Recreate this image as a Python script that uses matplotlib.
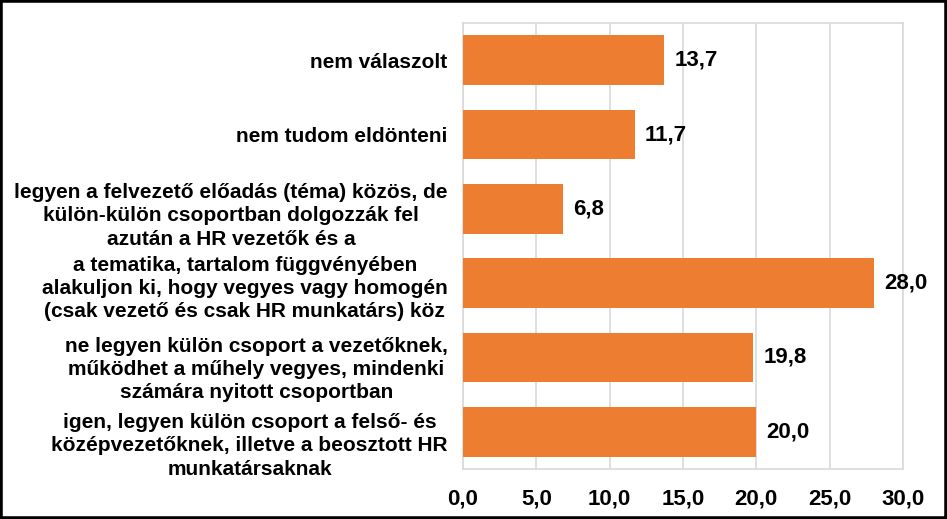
import numpy as np
import matplotlib.pyplot as plt
from matplotlib.patches import Rectangle
from matplotlib.transforms import ScaledTranslation

plt.rcParams['font.family'] = ['Liberation Sans', 'DejaVu Sans']

categories = [
    "igen, legyen külön csoport a felső- és\nközépvezetőknek, illetve a beosztott HR\nmunkatársaknak",
    "ne legyen külön csoport a vezetőknek,\nműködhet a műhely vegyes, mindenki\nszámára nyitott csoportban",
    "a tematika, tartalom függvényében\nalakuljon ki, hogy vegyes vagy homogén\n(csak vezető és csak HR munkatárs) köz",
    "legyen a felvezető előadás (téma) közös, de\nkülön-külön csoportban dolgozzák fel\nazután a HR vezetők és a",
    "nem tudom eldönteni",
    "nem válaszolt",
]
values = [20.0, 19.8, 28.0, 6.8, 11.7, 13.7]
xticks = [0, 5, 10, 15, 20, 25, 30]

fs = 15

fig = plt.figure(figsize=(9.47, 5.19), dpi=100)
ax = fig.add_axes([463/947, 1 - 469/519, 440/947, 446/519])

y = np.arange(len(values))
ax.barh(y, values, height=0.67, color='#ED7D31', zorder=3)
ax.set_ylim(-0.5, len(values) - 0.5)
ax.set_xlim(0, 30)

for yi, v in zip(y, values):
    ax.text(v + 0.7, yi, "{:.1f}".format(v).replace('.', ','), va='center', ha='left',
            fontsize=16, fontweight='bold')

ax.set_yticks(y)
ax.set_yticklabels(categories, fontsize=fs, fontweight='bold',
                   multialignment='center', linespacing=1.28)
ax.tick_params(axis='y', length=0, pad=11)
# wrapped labels sit a little lower than their bars, as in the original
shift_px = [-10, -8, -1, -3, 0, 0]
for lbl, dy in zip(ax.get_yticklabels(), shift_px):
    lbl.set_transform(lbl.get_transform() + ScaledTranslation(0, dy / 100, fig.dpi_scale_trans))

ax.set_xticks(xticks)
ax.set_xticklabels(["{:.1f}".format(t).replace('.', ',') for t in xticks],
                   fontsize=16, fontweight='bold')
ax.tick_params(axis='x', length=0, pad=14)

ax.grid(axis='x', color='#d9d9d9', linewidth=1.2, zorder=0)
for s in ax.spines.values():
    s.set_color('#d9d9d9')
    s.set_linewidth(1.2)

fig.patches.append(Rectangle((0, 0), 1, 1, transform=fig.transFigure, fill=False,
                             edgecolor='black', linewidth=4))

fig.savefig('out.png', dpi=100)
